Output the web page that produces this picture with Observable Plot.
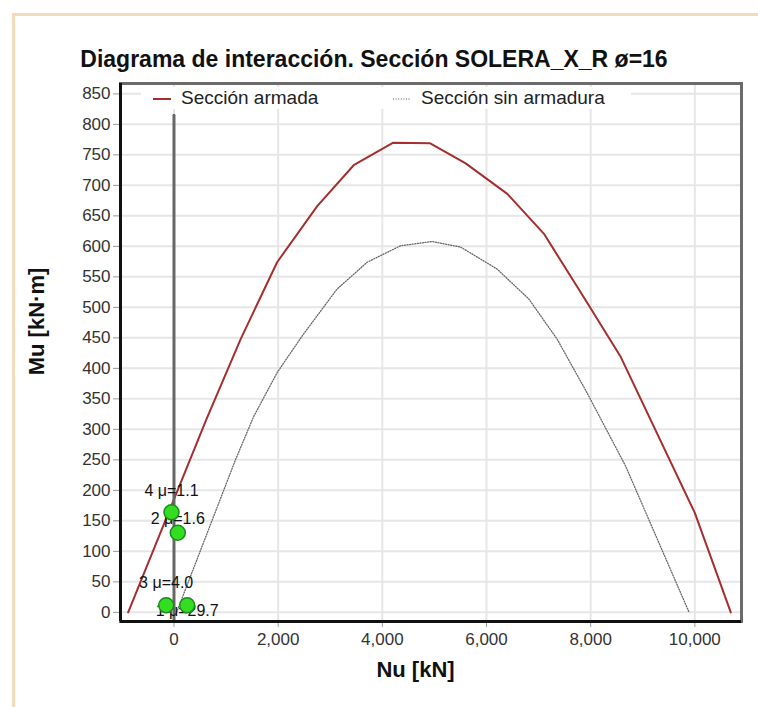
<!DOCTYPE html>
<html>
<head>
<meta charset="utf-8">
<script src="https://cdn.jsdelivr.net/npm/d3@7"></script>
<script src="https://cdn.jsdelivr.net/npm/@observablehq/plot@0.6"></script>
<style>
  body { margin: 0; background: #fff; font-family: "Liberation Sans", Arial, sans-serif; }
  #page { position: relative; width: 758px; height: 707px; overflow: hidden; background: #fff; }
  #edge { position: absolute; left: 12px; top: 13px; right: -10px; bottom: -10px;
          border-top: 3px solid #f5d9bc; border-left: 3px solid #f5d9bc; }
  #title { position: absolute; left: 0; width: 748px; top: 46px; text-align: center;
           font-weight: bold; font-size: 23px; color: #111; white-space: nowrap; }
  #chart { position: absolute; left: 0; top: 76px; }
  #legend { position: absolute; left: 141px; top: 87px; width: 490px; height: 22px;
            background: #fff; font-size: 19px; color: #222; white-space: nowrap; }
  #legend .item { position: absolute; top: 0; line-height: 22px; }
  #legend svg { vertical-align: middle; margin-right: 10px; }
</style>
</head>
<body>
<div id="page">
  <div id="edge"></div>
  <div id="title">Diagrama de interacción. Sección SOLERA_X_R ø=16</div>
  <div id="chart"></div>
  <div id="legend"></div>
</div>
<script>
// Interaction curve of the reinforced section (Nu in kN, Mu in kN·m)
const armadaN = [-880, 620, 1280, 1980, 2750, 3450, 4210, 4920, 5600, 6400, 7100, 7880, 8570, 10000, 10690];
const armadaM = [0, 316, 448, 574, 666, 733, 770, 769, 736, 686, 621, 515, 420, 163, 0];

// Interaction curve of the plain (unreinforced) section
const sinN = [50, 1180, 1530, 1980, 2460, 3130, 3710, 4350, 4955, 5500, 6200, 6810, 7355, 7930, 8670, 9890];
const sinM = [0, 250, 321, 393, 453, 530, 574, 601, 608, 599, 563, 514, 448, 360, 240, 0];

// Load cases and their safety factor μ
const caseId = [1, 2, 3, 4];
const caseN = [253, 73, -150, -48];
const caseM = [11.5, 130.5, 11.5, 164];
const caseMu = [29.7, 1.6, 4.0, 1.1];

// Vertical reference at Nu = 0
const refN = [0, 0];
const refM = [-15, 815];

// Axis ticks
const xTicks = [0, 2000, 4000, 6000, 8000, 10000];
const yTicks = [0, 50, 100, 150, 200, 250, 300, 350, 400, 450, 500, 550, 600, 650, 700, 750, 800, 850];

const X_DOMAIN = [-1027, 10896];
const Y_DOMAIN = [-15, 867];

const armada = armadaN.map((N, i) => ({N, M: armadaM[i]}));
const sin = sinN.map((N, i) => ({N, M: sinM[i]}));
const ref = refN.map((N, i) => ({N, M: refM[i]}));
const cases = caseId.map((id, i) => ({id, N: caseN[i], M: caseM[i], mu: caseMu[i]}));

// label placement around each dot
const labelOffset = {1: [0, 6], 2: [0, -14], 3: [0, -22], 4: [0, -21]};

const RED = "#a52e2e";
const FONT = "'Liberation Sans', Arial, sans-serif";

const chart = Plot.plot({
  width: 758,
  height: 631,
  marginLeft: 120,
  marginRight: 17,
  marginTop: 7,
  marginBottom: 86,
  style: {fontFamily: FONT, background: "transparent", overflow: "visible"},
  x: {domain: X_DOMAIN},
  y: {domain: Y_DOMAIN},
  marks: [
    Plot.gridY(yTicks, {stroke: "#e6e6e6", strokeOpacity: 1, strokeWidth: 2}),
    Plot.gridX(xTicks, {stroke: "#e6e6e6", strokeOpacity: 1, strokeWidth: 2}),
    Plot.axisY(yTicks, {tickSize: 7, tickPadding: 3, stroke: "#999", fill: "#333", fontSize: 17, label: null}),
    Plot.axisX(xTicks, {tickSize: 6, tickPadding: 5, stroke: "#999", fill: "#333", fontSize: 17,
                        tickFormat: d3.format(","), label: null}),
    Plot.line(sin, {x: "N", y: "M", stroke: "#666", strokeWidth: 1.3, strokeDasharray: "1,1.6"}),
    Plot.line(armada, {x: "N", y: "M", stroke: RED, strokeWidth: 2}),
    Plot.line(ref, {x: "N", y: "M", stroke: "#666", strokeWidth: 3}),
    ...cases.map(c => Plot.text([c], {
      x: "N", y: "M", text: d => `${d.id} μ=${d.mu.toFixed(1)}`,
      dx: labelOffset[c.id][0], dy: labelOffset[c.id][1],
      fontSize: 16, fill: "#111"
    })),
    Plot.dot(cases, {x: "N", y: "M", r: 7.5, fill: "#33dd22", stroke: "#1f8a1f", strokeWidth: 1.5}),
    Plot.frame({stroke: "#6b6b6b", strokeWidth: 3}),
    Plot.ruleX([X_DOMAIN[0]], {stroke: "#111", strokeWidth: 3}),
    Plot.ruleY([Y_DOMAIN[0]], {stroke: "#111", strokeWidth: 3}),
    Plot.text(["Nu [kN]"], {frameAnchor: "bottom-left", dx: 295, dy: 48, fontSize: 22,
                            textAnchor: "middle", lineAnchor: "middle",
                            fontWeight: "bold", fill: "#111"}),
    Plot.text(["Mu [kN·m]"], {frameAnchor: "top-left", dx: -84, dy: 238, rotate: -90, fontSize: 22,
                              textAnchor: "middle", lineAnchor: "middle",
                              fontWeight: "bold", fill: "#111"})
  ]
});
document.getElementById("chart").appendChild(chart);

// legend drawn over the top of the plot area
const legend = document.getElementById("legend");
const items = [
  {label: "Sección armada", left: 12, stroke: RED, width: 2, dash: null},
  {label: "Sección sin armadura", left: 252, stroke: "#888", width: 1.5, dash: "1,1.6"}
];
for (const it of items) {
  const div = document.createElement("div");
  div.className = "item";
  div.style.left = it.left + "px";
  const s = d3.create("svg").attr("width", 18).attr("height", 10);
  s.append("line").attr("x1", 0).attr("x2", 18).attr("y1", 5).attr("y2", 5)
    .attr("stroke", it.stroke).attr("stroke-width", it.width)
    .attr("stroke-dasharray", it.dash);
  div.appendChild(s.node());
  div.appendChild(document.createTextNode(it.label));
  legend.appendChild(div);
}
</script>
</body>
</html>
